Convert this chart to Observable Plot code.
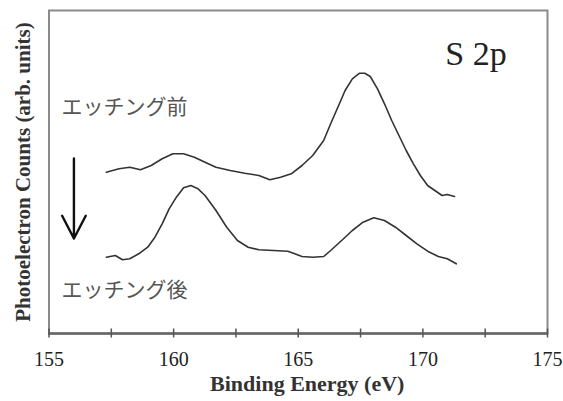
<!DOCTYPE html>
<html>
<head>
<meta charset="utf-8">
<script src="https://cdn.jsdelivr.net/npm/d3@7"></script>
<script src="https://cdn.jsdelivr.net/npm/@observablehq/plot@0.6"></script>
<style>
  html, body { margin: 0; padding: 0; background: #fff; }
  #chart svg { display: block; }
</style>
</head>
<body>
<div id="chart"></div>
<script>
// Binding energy (eV) and counts (arb. units) — before etching
const beforeE = [157.30,157.81,158.24,158.67,159.10,159.54,159.97,160.40,160.83,161.26,161.70,162.27,162.85,163.42,163.86,164.29,164.72,165.15,165.58,166.02,166.30,166.59,166.88,167.17,167.46,167.67,167.89,168.18,168.46,168.75,169.04,169.33,169.62,169.90,170.19,170.48,170.77,170.98,171.27];
const beforeC = [161.3,164.7,166.3,163.7,168,174.7,179.7,179.7,176.3,171.3,166.3,163,160.3,158,153.7,156.3,159.7,168,178,193,209.7,226.3,243,254.7,260.3,260.3,257,244.7,229.7,213,198,183,169.7,158,148,143,138,139,137];
// after etching
const afterE = [157.30,157.66,157.95,158.24,158.60,158.96,159.25,159.54,159.82,160.11,160.40,160.69,160.98,161.26,161.70,162.13,162.56,162.99,163.42,164.00,164.58,164.86,165.15,165.58,166.02,166.30,166.74,167.17,167.60,168.03,168.46,168.90,169.33,169.76,170.19,170.62,170.98,171.34];
const afterC = [76.3,78,73.7,74.7,79.7,86.3,96.3,109.7,124.7,136.3,145.7,148,144.7,138,123,106.3,93,86.3,83.7,83,82.3,79.7,77,76.3,77,83,93,103,111.3,115.7,113,106.3,98,89.7,82.3,77,74.7,69.7];

const majorTicks = [155, 160, 165, 170, 175];
const allTicks = [155, 157.5, 160, 162.5, 165, 167.5, 170, 172.5, 175];

const labelBefore = "エッチング前";
const labelAfter = "エッチング後";
const labelPeak = "S 2p";
const xTitle = "Binding Energy (eV)";
const yTitle = "Photoelectron Counts (arb. units)";

const before = beforeE.map((e, i) => ({E: e, c: beforeC[i]}));
const after = afterE.map((e, i) => ({E: e, c: afterC[i]}));

const serif = "Liberation Serif";
const cjk = "Noto Sans CJK JP";

const chart = Plot.plot({
  width: 563,
  height: 401,
  marginLeft: 48.5,
  marginRight: 16,
  marginTop: 10,
  marginBottom: 68,
  x: {domain: [155, 175]},
  y: {domain: [0, 323], axis: null},
  marks: [
    Plot.frame({stroke: "#8a8a8a", strokeWidth: 2}),
    Plot.ruleY([0], {stroke: "#666", strokeWidth: 2.5}),
    Plot.axisX({ticks: allTicks, tickSize: 9, dy: -4.5, text: null, label: null, stroke: "#555", strokeWidth: 1.5}),
    Plot.axisX({ticks: majorTicks, tickSize: 0, tickPadding: 18, fontSize: 20, fontFamily: serif, label: null, fill: "#222", tickFormat: d => String(d)}),
    Plot.text([xTitle], {frameAnchor: "bottom", dy: 57, dx: 9, lineAnchor: "bottom", fontSize: 22, fontWeight: "bold", fill: "#333", fontFamily: serif}),
    Plot.text([yTitle], {frameAnchor: "left", textAnchor: "middle", dx: -26, rotate: -90, fontSize: 21, fontWeight: "bold", fill: "#333", fontFamily: serif}),
    Plot.line(before, {x: "E", y: "c", stroke: "#333", strokeWidth: 1.6}),
    Plot.line(after, {x: "E", y: "c", stroke: "#333", strokeWidth: 1.6}),
    Plot.text([labelBefore], {x: 155.5, y: 226, text: d => d, textAnchor: "start", fontSize: 21, fill: "#555", fontFamily: cjk}),
    Plot.text([labelAfter], {x: 155.5, y: 43, text: d => d, textAnchor: "start", fontSize: 21, fill: "#555", fontFamily: cjk}),
    Plot.text([labelPeak], {x: 170.9, y: 269, text: d => d, textAnchor: "start", lineAnchor: "bottom", fontSize: 34, fill: "#222", fontFamily: serif}),
    Plot.arrow([{x: 156}], {x1: "x", x2: "x", y1: () => 175, y2: () => 95, stroke: "#111", strokeWidth: 2.4, headLength: 16, headAngle: 55})
  ]
});
document.getElementById("chart").appendChild(chart);
</script>
</body>
</html>
